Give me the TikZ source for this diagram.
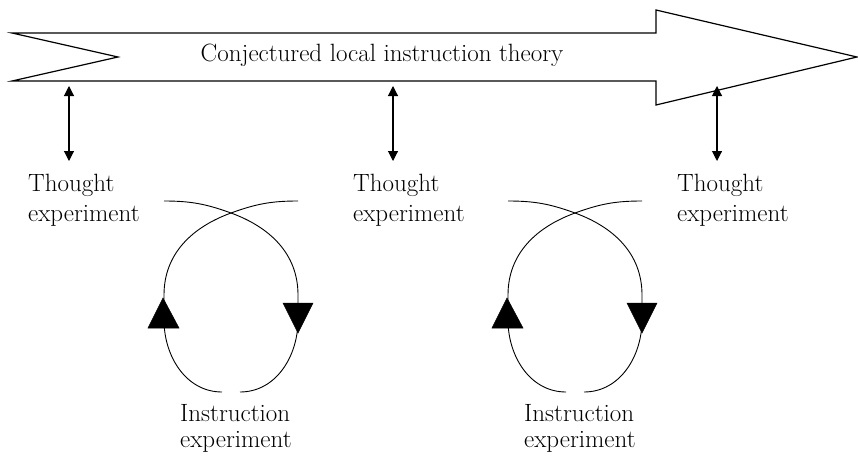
\documentclass[tikz,border=0pt]{standalone}
\usetikzlibrary{arrows.meta}
\begin{document}
\begin{tikzpicture}[x=1pt,y=-1pt,
  lbl/.style={anchor=north west,inner sep=0pt,align=left,font=\fontsize{25}{30}\selectfont},
  ilbl/.style={anchor=north west,inner sep=0pt,align=left,font=\fontsize{25}{26}\selectfont},
  dbl/.style={line width=1.1pt,{Triangle[length=10pt,width=10pt]}-{Triangle[length=10pt,width=10pt]}},
  loopline/.style={line width=0.9pt},
  tri/.style={fill=black,draw=black,line width=0.5pt}]
\useasboundingbox (0,0) rectangle (858,455);
% big arrow
\draw[line width=1.2pt,line join=miter] (12,33) -- (656,33) -- (656,10) -- (857,57) -- (656,105) -- (656,81) -- (12,81) -- (118,57) -- cycle;
\node[anchor=base,inner sep=0pt,font=\fontsize{25}{28}\selectfont] (title) at (382,61) {Conjectured local instruction theory};
% thought labels
\node[lbl] (t1) at (28,174) {Thought\\experiment};
\node[lbl] (t2) at (353,174) {Thought\\experiment};
\node[lbl] (t3) at (677,174) {Thought\\experiment};
% instruction labels
\node[ilbl] (i1) at (180,404) {Instruction\\experiment};
\node[ilbl] (i2) at (524,404) {Instruction\\experiment};
% double arrows
\coordinate (a1t) at (69,86); \coordinate (a1b) at (69,161);
\coordinate (a2t) at (393,86); \coordinate (a2b) at (393,161);
\coordinate (a3t) at (717,86); \coordinate (a3b) at (717,161);
\draw[dbl] (a1t) -- (a1b);
\draw[dbl] (a2t) -- (a2b);
\draw[dbl] (a3t) -- (a3b);
% loops
\foreach \dx/\n in {0/1,344/2}{
\begin{scope}[xshift=\dx pt]
\coordinate (ltl\n) at (164,201);
\coordinate (ltr\n) at (298,201);
\coordinate (lc\n) at (231,213);
\draw[loopline] (ltl\n) to[out=0,in=160] (lc\n) to[out=-20,in=90] (298,295) -- (298,320) to[out=-90,in=0] (240,392);
\draw[loopline] (ltr\n) to[out=180,in=20] (lc\n) to[out=200,in=90] (164,295) -- (164,320) to[out=-90,in=180] (222,392);
\fill[tri] (163,298) -- (148,328) -- (179,328) -- cycle;
\fill[tri] (283,303) -- (313,303) -- (298,333) -- cycle;
\end{scope}}
\end{tikzpicture}
\end{document}
